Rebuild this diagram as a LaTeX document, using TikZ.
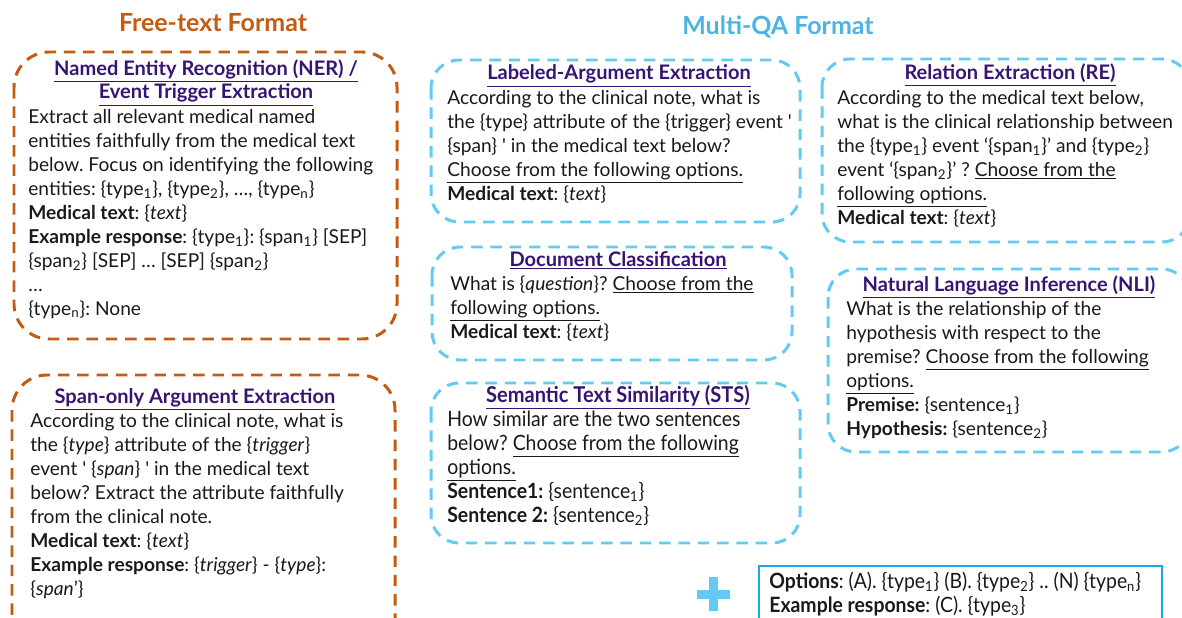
\documentclass[tikz,border=0pt]{standalone}
\usepackage{fontspec}
\setmainfont{Lato}
\newfontfamily\narrowfont[FakeStretch=0.92]{Lato}
\definecolor{freeorange}{RGB}{197,90,17}
\definecolor{qablue}{RGB}{97,203,243}
\definecolor{qahead}{RGB}{75,180,228}
\definecolor{optblue}{RGB}{25,170,230}
\definecolor{taskpurple}{RGB}{55,20,115}
\definecolor{bodytext}{RGB}{25,25,25}
\tikzstyle{freebox} = [draw=freeorange, line width=1.7pt, dash pattern=on 6.5pt off 4.5pt, rounded corners=20pt]
\tikzstyle{qabox} = [draw=qablue, line width=1.7pt, dash pattern=on 6.5pt off 4.5pt, rounded corners=16pt]
\tikzstyle{optbox} = [draw=optblue, line width=1.6pt]
\tikzstyle{heading} = [anchor=base, inner sep=0pt, font=\fontsize{14.2}{16}\selectfont\bfseries]
\tikzstyle{tasktitle} = [anchor=base, inner sep=0pt, align=center, text=taskpurple, font=\fontsize{11.4}{13.6}\selectfont\bfseries]
\tikzstyle{prompt} = [anchor=base west, inner sep=0pt, align=left, text=bodytext, font=\fontsize{10.9}{13.6}\selectfont]
\tikzstyle{narrowprompt} = [prompt, font=\fontsize{12}{13.6}\narrowfont]
\newcommand{\sub}[1]{\textsubscript{#1}}
\newcommand{\tq}{\textquotesingle}
\newcommand{\ul}[1]{\underline{#1}}
\frenchspacing

\begin{document}
\begin{tikzpicture}[x=0.02cm, y=-0.02cm]
	\clip (0,0) rectangle (1182,618);
	\node[heading, text=freeorange] (freehead) at (213,32) {Free-text Format};
	\node[heading, text=qahead] (qahead) at (778,35) {Multi-QA Format};
	\draw[freebox] (14,52) rectangle (397,339);
	\draw[freebox] (12,375) rectangle (395,660);
	\draw[qabox] (431,60) rectangle (800,222);
	\draw[qabox] (432,247) rectangle (792,360);
	\draw[qabox] (431,383) rectangle (800,543);
	\draw[qabox] (822,59) rectangle (1190,242);
	\draw[qabox] (828,269) rectangle (1190,452);
	\draw[optbox] (759,566) rectangle (1162,640);
	\fill[qablue] (709,577) rectangle (718,611);
	\fill[qablue] (697,590) rectangle (730,599);
	\node[tasktitle] (nertitle) at (206,99) {\ul{Named Entity Recognition (NER) /}\\\ul{Event Trigger Extraction}};
	\node[prompt] (nertext) at (28,315) {Extract all relevant medical named\\
		entities faithfully from the medical text\\
		below. Focus on identifying the following\\
		entities: \{type\sub{1}\}, \{type\sub{2}\}, \ldots, \{type\sub{n}\}\\
		\textbf{Medical text}: \{\textit{text}\}\\
		\textbf{Example response}: \{type\sub{1}\}: \{span\sub{1}\} [SEP]\\
		\{span\sub{2}\} [SEP] \ldots{} [SEP] \{span\sub{2}\}\\
		\ldots\\
		\{type\sub{n}\}: None};
	\node[tasktitle] (spantitle) at (195,403) {\ul{Span-only Argument Extraction}};
	\node[prompt] (spantext) at (30,595) {According to the clinical note, what is\\
		the \{\textit{type}\} attribute of the \{\textit{trigger}\}\\
		event \tq{} \{\textit{span}\} \tq{} in the medical text\\
		below? Extract the attribute faithfully\\
		from the clinical note.\\
		\textbf{Medical text}: \{\textit{text}\}\\
		\textbf{Example response}: \{\textit{trigger}\} - \{\textit{type}\}:\\
		\{\textit{span}’\}};
	\node[tasktitle] (argtitle) at (619,80) {\ul{Labeled-Argument Extraction}};
	\node[prompt] (argtext) at (447,200) {According to the clinical note, what is\\
		the \{type\} attribute of the \{trigger\} event \tq\\
		\{span\} \tq{} in the medical text below?\\
		\ul{Choose from the following options.}\\
		\textbf{Medical text}: \{\textit{text}\}};
	\node[tasktitle] (doctitle) at (618,266) {\ul{Document Classification}};
	\node[prompt] (doctext) at (450,338) {What is \{\textit{question}\}? \ul{Choose from the}\\
		\ul{following options.}\\
		\textbf{Medical text}: \{\textit{text}\}};
	\node[tasktitle, font=\fontsize{12.4}{13.6}\narrowfont\bfseries] (ststitle) at (618,402) {\ul{Semantic Text Similarity (STS)}};
	\node[narrowprompt] (ststext) at (447,522) {How similar are the two sentences\\
		below? \ul{Choose from the following}\\
		\ul{options.}\\
		\textbf{Sentence1:} \{sentence\sub{1}\}\\
		\textbf{Sentence 2:} \{sentence\sub{2}\}};
	\node[tasktitle] (retitle) at (1010,80) {\ul{Relation Extraction (RE)}};
	\node[prompt] (retext) at (837,224) {According to the medical text below,\\
		what is the clinical relationship between\\
		the \{type\sub{1}\} event ‘\{span\sub{1}\}’ and \{type\sub{2}\}\\
		event ‘\{span\sub{2}\}’ ? \ul{Choose from the}\\
		\ul{following options.}\\
		\textbf{Medical text}: \{\textit{text}\}};
	\node[tasktitle] (nlititle) at (1009,291) {\ul{Natural Language Inference (NLI)}};
	\node[prompt] (nlitext) at (846,435) {What is the relationship of the\\
		hypothesis with respect to the\\
		premise? \ul{Choose from the following}\\
		\ul{options.}\\
		\textbf{Premise:} \{sentence\sub{1}\}\\
		\textbf{Hypothesis:} \{sentence\sub{2}\}};
	\node[narrowprompt] (opttext) at (769,612) {\textbf{Options}: (A). \{type\sub{1}\} (B). \{type\sub{2}\} .. (N) \{type\sub{n}\}\\
		\textbf{Example response}: (C). \{type\sub{3}\}};
\end{tikzpicture}
\end{document}
